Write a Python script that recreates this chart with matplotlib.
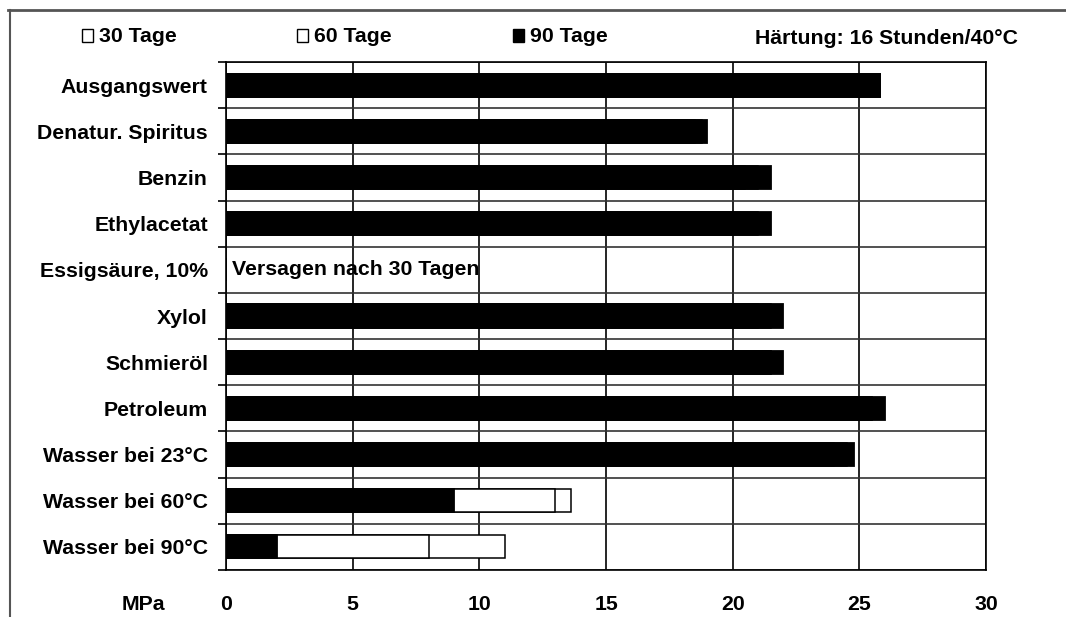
import matplotlib
matplotlib.use('Agg')
import matplotlib.pyplot as plt
from matplotlib.lines import Line2D
from matplotlib.patches import Rectangle

plt.rcParams['font.family'] = ['Liberation Sans', 'DejaVu Sans']
plt.rcParams['font.weight'] = 'bold'

# Daten (MPa) - von oben nach unten
kategorien = ["Ausgangswert", "Denatur. Spiritus", "Benzin", "Ethylacetat",
              "Essigsäure, 10%", "Xylol", "Schmieröl", "Petroleum",
              "Wasser bei 23°C", "Wasser bei 60°C", "Wasser bei 90°C"]
tage30 = [25.8, 18.8, 20.5, 20.0, 0.0, 21.0, 21.5, 25.5, 24.0, 13.6, 11.0]
tage60 = [25.8, 18.5, 21.0, 21.0, 0.0, 21.5, 21.5, 25.5, 24.5, 13.0, 8.0]
tage90 = [25.8, 19.0, 21.5, 21.5, 0.0, 22.0, 22.0, 26.0, 24.8, 9.0, 2.0]
xticks = [0, 5, 10, 15, 20, 25, 30]
legende = ["30 Tage", "60 Tage", "90 Tage"]
legende_farben = ["white", "white", "black"]

W, H = 1066, 617
fig = plt.figure(figsize=(W / 100, H / 100), dpi=100)
ax = fig.add_axes([226 / W, 1 - 570 / H, 760 / W, 508 / H])

pos = list(range(len(kategorien)))
fs = 15.3

# hintere Balken zuerst (30 Tage), schwarzer Balken vorne
ax.barh(pos, tage30, height=0.5, color="white", edgecolor="black", linewidth=1.1, zorder=3)
ax.barh(pos, tage60, height=0.5, color="white", edgecolor="black", linewidth=1.1, zorder=4)
ax.barh(pos, tage90, height=0.5, color="black", edgecolor="black", linewidth=1.3, zorder=5)

ax.text(0.25, 4, "Versagen nach 30 Tagen", ha="left", va="center",
        fontsize=fs, fontweight="bold", zorder=6)

ax.set_xlim(0, 30)
ax.set_ylim(len(kategorien) - 0.5, -0.5)
ax.set_xticks(xticks)
ax.set_xticklabels([str(t) for t in xticks], fontsize=fs, fontweight="bold")
ax.set_yticks(pos)
ax.set_yticklabels(kategorien, fontsize=fs, fontweight="bold")
ax.set_yticks([p - 0.5 for p in pos] + [len(kategorien) - 0.5], minor=True)

ax.tick_params(axis="x", length=0, pad=18)
ax.tick_params(axis="y", which="major", length=0, pad=13)
ax.tick_params(axis="y", which="minor", length=6, width=1.2, direction="out")

ax.grid(axis="x", which="major", color="black", linewidth=1.2, zorder=1)
ax.grid(axis="y", which="minor", color="#333333", linewidth=1.2, zorder=1)
for s in ax.spines.values():
    s.set_linewidth(1.2)
    s.set_zorder(2)

fig.text(143 / W, 1 - 604 / H, "MPa", ha="center", va="center", fontsize=fs, fontweight="bold")

# Legende oben (Kaestchen + Text)
leg_x = [82, 297, 513]
for x0, lab, farbe in zip(leg_x, legende, legende_farben):
    fig.patches.append(Rectangle((x0 / W, 1 - 42 / H), 11 / W, 13 / H, facecolor=farbe,
                                 edgecolor="black", linewidth=1.0, transform=fig.transFigure, figure=fig))
    fig.text((x0 + 17) / W, 1 - 36 / H, lab, ha="left", va="center", fontsize=fs, fontweight="bold")
fig.text(755 / W, 1 - 38 / H, "Härtung: 16 Stunden/40°C", ha="left", va="center",
         fontsize=fs, fontweight="bold")

# Rahmen oben und links
fig.add_artist(Line2D([8 / W, 1], [1 - 10 / H, 1 - 10 / H], color="#555555", linewidth=2,
                      transform=fig.transFigure))
fig.add_artist(Line2D([10 / W, 10 / W], [1 - 10 / H, 0], color="#555555", linewidth=1.5,
                      transform=fig.transFigure))

fig.savefig("out.png", dpi=100)
